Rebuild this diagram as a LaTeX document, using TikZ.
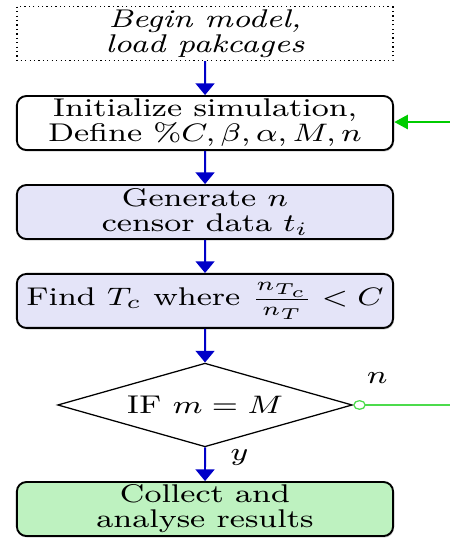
\documentclass[tikz,border=0pt]{standalone}
\usepackage{tikz}
\usetikzlibrary{shapes.geometric, arrows.meta, positioning, shadows}
\definecolor{flowblue}{RGB}{0, 0, 200}
\definecolor{loopgreen}{RGB}{0, 204, 0}
\definecolor{lavender}{RGB}{228, 228, 248}
\definecolor{mint}{RGB}{190, 242, 192}
\tikzset{
    stepbox/.style={rectangle, rounded corners=3pt, draw=black, semithick, align=center, minimum width=3.344cm, minimum height=0.6cm, inner xsep=0pt, inner ysep=0.5pt, drop shadow={opacity=0.35, shadow xshift=0.3pt, shadow yshift=-0.5pt}},
    startbox/.style={rectangle, draw=black, densely dotted, thin, align=center, minimum width=3.344cm, minimum height=0.6cm, inner sep=0.5pt, font=\fontsize{8.1}{7.9}\selectfont\itshape},
    decision/.style={diamond, aspect=2.4, draw=black, thin, align=center, minimum width=2.62cm, minimum height=0.93cm, inner sep=0pt},
    arr/.style={-{Triangle[length=1.3mm, width=2.1mm]}, semithick, flowblue},
    backarr/.style={-{Triangle[length=1.5mm, width=1.6mm]}, thin, loopgreen},
    noline/.style={{Circle[open, length=1.4mm, width=1.1mm]}-, thin, loopgreen!70}
}
\begin{document}
\begin{tikzpicture}[xscale=1.25, transform shape, font=\fontsize{8.1}{7.9}\selectfont]
    \useasboundingbox (0,0) rectangle (4,-5.978);
    \node[startbox] (begin) at (1.822,-0.372) {Begin model,\\load pakcages};
    \node[stepbox, fill=white] (init) at (1.822,-1.367) {Initialize simulation,\\Define $\%C, \beta, \alpha, M, n$};
    \node[stepbox, fill=lavender] (gen) at (1.822,-2.356) {Generate $n$\\censor data $t_i$};
    \node[stepbox, fill=lavender] (find) at (1.822,-3.344) {Find $T_c$ where $\frac{n_{T_c}}{n_T} < C$};
    \node[decision] (test) at (1.822,-4.5) {IF $m = M$};
    \node[stepbox, fill=mint] (collect) at (1.822,-5.656) {Collect and\\analyse results};
    \coordinate (loopin) at (4,-1.356);
    \coordinate (loopout) at (4,-4.5);

    \draw[arr] (begin)--(init);
    \draw[arr] (init)--(gen);
    \draw[arr] (gen)--(find);
    \draw[arr] (find)--(test);
    \draw[arr] (test)--node[pos=0.3, right=0.1cm, text=black]{$y$}(collect);
    \draw[noline] (test.east)--node[pos=0.25, above=0.12cm, text=black]{$n$}(loopout);
    \draw[backarr] (loopin)--(init.east |- loopin);
\end{tikzpicture}
\end{document}
